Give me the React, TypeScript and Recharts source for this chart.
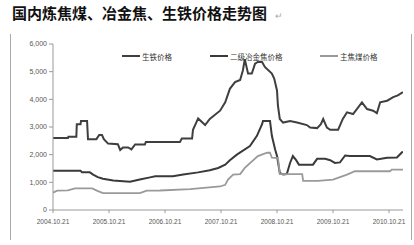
import { LineChart, Line, XAxis, YAxis } from 'recharts';

// months counted from 2004.10.21
const tickMonths = [0, 12, 24, 36, 48, 60, 72];
const tickLabels = ['2004.10.21', '2005.10.21', '2006.10.21', '2007.10.21', '2008.10.21', '2009.10.21', '2010.10.21'];
const yTicks = [0, 1000, 2000, 3000, 4000, 5000, 6000];

// 生铁价格
const ironMonths = [0, 3.2, 3.3, 5.0, 5.1, 5.9, 6.0, 7.3, 7.5, 9.3, 9.9, 10.5, 10.9, 11.8, 13.9, 14.4, 15.0, 16.1, 16.8, 17.6, 19.7, 19.9, 27.2, 27.6, 29.8, 30.0, 31.1, 32.6, 33.6, 35.8, 36.9, 37.9, 39.0, 40.1, 40.7, 41.1, 41.8, 42.6, 43.3, 43.9, 44.8, 45.4, 46.9, 47.4, 48.0, 48.2, 48.6, 49.3, 50.8, 52.3, 54.4, 55.1, 56.6, 57.4, 57.9, 58.7, 59.4, 61.1, 62.1, 63.0, 64.3, 66.2, 67.3, 68.6, 69.4, 70.1, 71.6, 72.9, 73.9, 75.0];
const ironPrice = [2600, 2600, 2650, 2650, 3100, 3100, 3220, 3220, 2560, 2560, 2710, 2710, 2560, 2400, 2380, 2170, 2260, 2260, 2190, 2370, 2370, 2460, 2460, 2580, 2580, 2900, 3310, 3070, 3290, 3590, 3890, 4380, 4620, 4700, 5050, 5450, 4930, 4930, 5290, 5350, 5350, 5170, 4930, 4750, 4320, 3770, 3290, 3160, 3220, 3160, 3070, 2980, 2960, 3100, 3290, 2980, 2900, 2900, 3290, 3530, 3470, 3890, 3650, 3590, 3500, 3890, 3950, 4080, 4140, 4260];

// 二级冶金焦价格
const cokeMonths = [0, 5.9, 6.2, 7.9, 8.6, 9.6, 10.7, 12.9, 16.5, 18.6, 20.8, 21.9, 25.7, 27.9, 31.1, 33.6, 35.4, 36.9, 37.9, 39.4, 42.2, 43.7, 44.8, 45.0, 46.5, 46.9, 47.6, 48.0, 48.6, 49.3, 50.1, 50.8, 51.4, 52.1, 52.7, 55.7, 56.6, 58.3, 59.4, 60.4, 61.5, 62.6, 63.6, 67.9, 69.4, 71.6, 73.7, 74.8, 75.0];
const cokePrice = [1420, 1420, 1360, 1360, 1280, 1190, 1130, 1070, 1020, 1100, 1180, 1216, 1216, 1280, 1360, 1435, 1520, 1640, 1800, 2000, 2310, 2680, 3100, 3220, 3220, 2680, 2190, 1950, 1340, 1280, 1300, 1700, 1950, 1800, 1640, 1640, 1850, 1850, 1800, 1700, 1720, 1970, 1950, 1950, 1830, 1890, 1900, 2090, 2100];

// 主焦煤价格
const coalMonths = [0, 0.9, 3.2, 4.7, 8.4, 9.4, 10.7, 18.6, 20.1, 22.9, 29.4, 35.8, 36.9, 37.5, 38.6, 40.1, 41.1, 43.9, 45.9, 46.5, 46.9, 48.2, 48.6, 53.4, 53.6, 56.8, 60.0, 61.5, 63.0, 64.7, 72.2, 72.6, 75.0];
const coalPrice = [630, 700, 710, 780, 780, 700, 610, 610, 700, 705, 755, 850, 910, 1100, 1280, 1300, 1520, 1950, 2070, 2070, 1890, 1880, 1300, 1300, 1050, 1050, 1100, 1190, 1280, 1400, 1400, 1460, 1460];

const series = [
  { name: '生铁价格', months: ironMonths, values: ironPrice, color: '#3f3f3f', width: 2 },
  { name: '二级冶金焦价格', months: cokeMonths, values: cokePrice, color: '#3a3a3a', width: 2 },
  { name: '主焦煤价格', months: coalMonths, values: coalPrice, color: '#9a9a9a', width: 1.8 },
];

const toPoints = (months: number[], values: number[]) =>
  months.map((m, i) => ({ m, v: values[i] }));

const legendLeft = [122, 210, 320];

export default function App() {
  return (
    <div style={{ position: 'absolute', left: 0, top: 0, width: 414, height: 245, background: '#fff', overflow: 'hidden' }}>
      <div
        style={{
          position: 'absolute',
          left: 12,
          top: 2,
          fontSize: 15,
          fontWeight: 700,
          fontFamily: '"Noto Sans CJK SC", sans-serif',
          color: '#111',
          whiteSpace: 'nowrap',
        }}
      >
        国内炼焦煤、冶金焦、生铁价格走势图
        <span style={{ fontSize: 9, fontWeight: 400, color: '#aaa', marginLeft: 8 }}>↵</span>
      </div>
      <div style={{ position: 'absolute', left: 10, top: 34, width: 1, height: 206, background: '#aaa' }} />
      <div style={{ position: 'absolute', left: 411, top: 34, width: 1, height: 206, background: '#aaa' }} />
      <div style={{ position: 'absolute', left: 0, top: 0 }}>
        <LineChart width={414} height={245} margin={{ top: 44, right: 11, bottom: 5, left: 0 }}>
          <XAxis
            type="number"
            dataKey="m"
            domain={[0, 75]}
            ticks={tickMonths}
            tickFormatter={(v: number) => tickLabels[tickMonths.indexOf(v)] ?? ''}
            allowDataOverflow
            height={30}
            stroke="#999"
            tickSize={3}
            tickMargin={6}
            tick={{ fontSize: 6.5, fill: '#555', fontFamily: 'Liberation Sans, Arial, sans-serif' }}
          />
          <YAxis
            type="number"
            domain={[0, 6000]}
            ticks={yTicks}
            width={53}
            stroke="#999"
            tickSize={4}
            tickMargin={2}
            tickFormatter={(v: number) => v.toLocaleString('en-US')}
            tick={{ fontSize: 7, fill: '#555', fontFamily: 'Liberation Sans, Arial, sans-serif' }}
          />
          {series.map((s) => (
            <Line
              key={s.name}
              name={s.name}
              data={toPoints(s.months, s.values)}
              dataKey="v"
              type="linear"
              stroke={s.color}
              strokeWidth={s.width}
              dot={false}
              activeDot={false}
              isAnimationActive={false}
            />
          ))}
        </LineChart>
      </div>
      {series.map((s, i) => (
        <div
          key={s.name}
          style={{
            position: 'absolute',
            left: legendLeft[i],
            top: 50,
            height: 12,
            display: 'flex',
            alignItems: 'center',
            whiteSpace: 'nowrap',
          }}
        >
          <span style={{ display: 'inline-block', width: 18, height: 2, background: s.color, marginRight: 2 }} />
          <span style={{ fontSize: 7.5, color: '#333', fontFamily: '"Noto Sans CJK SC", sans-serif' }}>{s.name}</span>
        </div>
      ))}
    </div>
  );
}
